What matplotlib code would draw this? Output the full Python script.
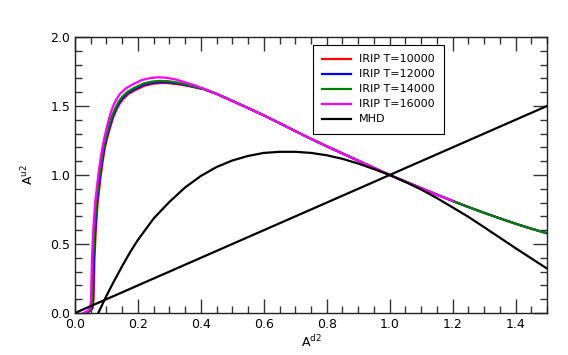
import matplotlib
matplotlib.use('Agg')
import matplotlib.pyplot as plt
from matplotlib.ticker import MultipleLocator

# --- values ---
# IRIP curves: the steep rising part differs per temperature
x_red = [0.035, 0.048, 0.056, 0.059, 0.060, 0.061, 0.062, 0.064, 0.066, 0.069,
         0.072, 0.077, 0.082, 0.088, 0.095, 0.103, 0.112, 0.121, 0.131, 0.142,
         0.154, 0.171, 0.192, 0.222, 0.250, 0.276, 0.300, 0.330, 0.360, 0.390, 0.410]
y_red = [0.000, 0.015, 0.035, 0.10, 0.20, 0.30, 0.40, 0.50, 0.60, 0.70,
         0.80, 0.90, 1.00, 1.10, 1.20, 1.275, 1.348, 1.415, 1.470, 1.517,
         1.553, 1.589, 1.616, 1.648, 1.662, 1.667, 1.665, 1.657, 1.645, 1.630, 1.622]

x_blue = [0.033, 0.046, 0.054, 0.057, 0.058, 0.059, 0.060, 0.062, 0.064, 0.067,
          0.070, 0.075, 0.080, 0.086, 0.093, 0.101, 0.110, 0.119, 0.129, 0.140,
          0.152, 0.169, 0.190, 0.220, 0.248, 0.273, 0.298, 0.328, 0.358, 0.388, 0.410]
y_blue = [0.000, 0.015, 0.035, 0.10, 0.20, 0.30, 0.40, 0.50, 0.60, 0.70,
          0.80, 0.90, 1.00, 1.10, 1.20, 1.278, 1.352, 1.420, 1.475, 1.523,
          1.560, 1.596, 1.623, 1.655, 1.669, 1.674, 1.672, 1.663, 1.650, 1.634, 1.622]

x_green = [0.031, 0.044, 0.052, 0.055, 0.056, 0.057, 0.058, 0.060, 0.062, 0.065,
           0.068, 0.073, 0.078, 0.084, 0.091, 0.099, 0.108, 0.117, 0.127, 0.138,
           0.150, 0.167, 0.187, 0.218, 0.245, 0.270, 0.295, 0.325, 0.355, 0.385, 0.410]
y_green = [0.000, 0.015, 0.035, 0.10, 0.20, 0.30, 0.40, 0.50, 0.60, 0.70,
           0.80, 0.90, 1.00, 1.10, 1.20, 1.280, 1.355, 1.425, 1.480, 1.530,
           1.567, 1.603, 1.630, 1.663, 1.677, 1.682, 1.680, 1.670, 1.655, 1.637, 1.622]

x_mag = [0.027, 0.040, 0.048, 0.051, 0.052, 0.053, 0.054, 0.056, 0.058, 0.061,
         0.064, 0.069, 0.074, 0.080, 0.087, 0.095, 0.103, 0.112, 0.121, 0.132,
         0.143, 0.160, 0.180, 0.212, 0.240, 0.264, 0.290, 0.320, 0.350, 0.380, 0.410]
y_mag = [0.000, 0.015, 0.035, 0.10, 0.20, 0.30, 0.40, 0.50, 0.60, 0.70,
         0.80, 0.90, 1.00, 1.10, 1.20, 1.285, 1.365, 1.440, 1.500, 1.550,
         1.588, 1.625, 1.652, 1.688, 1.703, 1.708, 1.705, 1.692, 1.672, 1.650, 1.625]

# shared tail of all IRIP curves (T=16000 stops at 1.2)
tail_x = [0.45, 0.50, 0.55, 0.60, 0.65, 0.70, 0.75, 0.80, 0.85, 0.90, 0.95,
          1.00, 1.05, 1.10, 1.15, 1.20]
tail_y = [1.588, 1.537, 1.485, 1.432, 1.376, 1.318, 1.262, 1.208, 1.156, 1.104, 1.052,
          1.000, 0.952, 0.905, 0.858, 0.812]
ext_x = [1.25, 1.30, 1.35, 1.40, 1.45, 1.50]
ext_y = [0.768, 0.726, 0.686, 0.647, 0.611, 0.578]

# MHD
mhd_x = [0.074, 0.100, 0.125, 0.150, 0.175, 0.200, 0.250, 0.300, 0.350, 0.400,
         0.450, 0.500, 0.550, 0.600, 0.650, 0.700, 0.750, 0.800, 0.850, 0.900,
         0.950, 1.000, 1.050, 1.100, 1.150, 1.200, 1.250, 1.300, 1.350, 1.400,
         1.450, 1.500]
mhd_y = [0.000, 0.125, 0.235, 0.340, 0.440, 0.530, 0.685, 0.805, 0.910, 0.993,
         1.058, 1.105, 1.138, 1.160, 1.168, 1.168, 1.160, 1.143, 1.117, 1.083,
         1.043, 1.000, 0.950, 0.895, 0.833, 0.765, 0.697, 0.622, 0.546, 0.470,
         0.396, 0.322]
diag = [0.0, 1.5]

labels = ['IRIP T=10000', 'IRIP T=12000', 'IRIP T=14000', 'IRIP T=16000', 'MHD']
colors = ['red', 'blue', 'green', 'magenta', 'black']

fig = plt.figure(figsize=(5.68, 3.55), dpi=100)
ax = fig.add_axes([75 / 568, 1 - 313 / 355, 472 / 568, 276 / 355])

lw = 1.6
ax.plot(x_red + tail_x + ext_x, y_red + tail_y + ext_y, color=colors[0], lw=lw, label=labels[0])
ax.plot(x_blue + tail_x + ext_x, y_blue + tail_y + ext_y, color=colors[1], lw=lw, label=labels[1])
ax.plot(x_green + tail_x + ext_x, y_green + tail_y + ext_y, color=colors[2], lw=lw, label=labels[2])
ax.plot(x_mag + tail_x, y_mag + tail_y, color=colors[3], lw=lw, label=labels[3])
ax.plot(mhd_x, mhd_y, color=colors[4], lw=lw, label=labels[4])
ax.plot(diag, diag, color=colors[4], lw=lw)

ax.set_xlim(0, 1.5)
ax.set_ylim(0, 2.0)
ax.xaxis.set_major_locator(MultipleLocator(0.2))
ax.xaxis.set_minor_locator(MultipleLocator(0.05))
ax.yaxis.set_major_locator(MultipleLocator(0.5))
ax.yaxis.set_minor_locator(MultipleLocator(0.1))
ax.tick_params(which='both', direction='in', top=True, right=True, labelsize=9, color='#333333')
ax.tick_params(which='major', length=10, width=1)
ax.tick_params(which='minor', length=5, width=1)
for s in ax.spines.values():
    s.set_linewidth(1)
    s.set_color('#222222')

ax.set_xlabel(r'A$^{\mathrm{d2}}$', fontsize=9, labelpad=2)
ax.set_ylabel(r'A$^{\mathrm{u2}}$', fontsize=9, labelpad=10)

leg = ax.legend(loc='upper left', bbox_to_anchor=(0.504, 0.971), fontsize=8,
                fancybox=False, edgecolor='black', framealpha=1, borderaxespad=0,
                handlelength=2.6, handletextpad=0.7, labelspacing=0.45, borderpad=0.85)
leg.get_frame().set_linewidth(0.8)

fig.savefig('out.png', dpi=100)
